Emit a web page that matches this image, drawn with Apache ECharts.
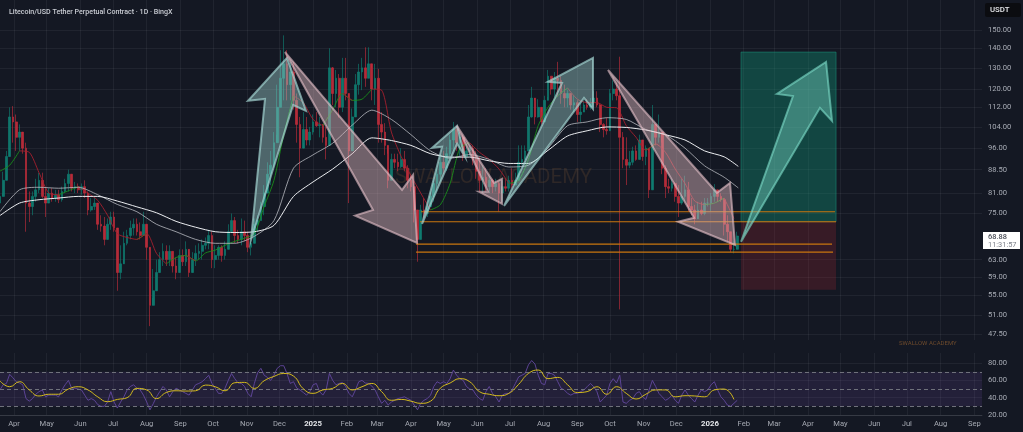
<!DOCTYPE html>
<html><head><meta charset="utf-8">
<style>html,body{margin:0;padding:0;background:#141823}#c{width:1023px;height:432px}</style>
<script src="https://cdn.jsdelivr.net/npm/echarts@6/dist/echarts.min.js"></script>
</head><body><div id="c"></div>
<script>
const title = 'Litecoin/USD Tether Perpetual Contract · 1D · BingX';
const watermark = 'SWALLOW ACADEMY';
const lastPrice = '68.88', countdown = '11:31:57';
const priceTicks = [150,140,130,120,112,104,96,88.5,81,75,63,59,55,51,47.5];
const rsiTicks = [80,60,40,20];
const monthTicks = ['2024-04-01','2024-05-01','2024-06-01','2024-07-01','2024-08-01','2024-09-01','2024-10-01','2024-11-01','2024-12-01','2025-01-01','2025-02-01','2025-03-01','2025-04-01','2025-05-01','2025-06-01','2025-07-01','2025-08-01','2025-09-01','2025-10-01','2025-11-01','2025-12-01','2026-01-01','2026-02-01','2026-03-01','2026-04-01','2026-05-01','2026-06-01','2026-07-01','2026-08-01','2026-09-01'];
const monthNames = ['Jan','Feb','Mar','Apr','May','Jun','Jul','Aug','Sep','Oct','Nov','Dec'];

// candles: one every 3 days, first on day -13 relative to 2024-04-01
const closes = [80,85,93,108,106,100,102,96,78,77,80,82,85,80,78,81,79.5,80.5,79,81.5,84,87,82.5,83,82,83,81,76,77,78,72,71.5,68,72,74,71,60,62,67,69,71,72,70,69,72,66,53,56,60,63,65,63,65,61.5,60,64,62.5,65.5,60,63,64.5,65,66.5,67,69,63,64,66,64,65.5,70,73,69,68,70,69,66,67,72,73,77,81,87,90,98,112,125,132,122,128,115,105,96,103,99,102,106,104.5,105,100,97,130,118,125,112,125,118,95,108,122,128,130,125,132,120,125,105,102,97,85,92,91,89.5,92,89,85,83,76,68,76,75,77,80,84,87,91,89,94,99,103,98,100,93,95,96,92,88,85,86,83,85,83,84,81,83,82.5,85,83.5,85,91,92,95,108,116,108,112,106,115,126,120,125,124,118,116,118,113,114,109,110,113,112,114,116,113,105,103,102.5,118,120,117,100,92,90,91,95,92,99,93,96,82,105,100,102,89,83,82.5,84,80,78,80,82,77,76,73.5,76,75,78,78,80,82,80,79,72,70,65.5,65.5,68.88];
const highs = [89,87.8,95,112,112.5,109,105,101,98,81.5,81.5,85.5,87.5,87.5,82.5,82.5,82.5,82,82,83,85.5,88.5,86.5,84.5,84,84,85,81.5,79.5,79.5,77.5,74.5,74,73.6,75.5,75.5,70.5,66.5,70,70.5,73,73.6,73.6,72.5,75.5,70.5,65.5,60.8,63,64.8,67,66.5,66.5,65,63.5,65.5,65.5,67.5,63,64.8,66.5,67,68,68.5,70.5,70,66.5,66.5,66.5,67.5,72,75,74,70.5,73.6,73,70,67.5,73.6,74.5,78.4,83.5,91,95,102,122,139,147,139,133,133,118,108,110,108,104,109,110,108,104.5,104,140,130.4,129,127,135,135,116,111.5,127,132,135,140.5,140.5,130,132,129.5,110,105.5,94,94,94,94,96,95,90,86.5,85,73.6,77.5,79.5,78.5,81.5,85.5,89,93,95,96.5,101,106,104.5,102,101,97.5,97,97,95,93,90,89,86.5,85.5,85.5,84.5,85,85.5,86.5,89,87.5,97,97,97,113,121,115,115.5,110,117,129,126,128,133,126,122,119.5,118,117,115,113.5,115,115.5,116,119,119,113.5,105.5,107.7,120,124,123,135.6,102,100,95,96.5,97,101,98,97,95,113,104,109,98,90,85.5,85.5,84.5,83.5,85.5,86.5,84.5,79.5,77.5,78.4,78.4,79.5,79.5,81,83.8,81,81,79.5,74.5,70,67.5,70];
const lows = [76.9,80.9,87,96,98,95,95,94,70,72.6,74.5,78.4,81,79.5,74,78.4,78.4,78.4,78,78.4,81,81.5,81.5,81,81,80.5,79.5,74.5,75.5,76,70.5,70,66.5,70,70.5,70,56,58.5,63,66.5,68,69,69,68,69,63,49,54.5,56.5,60.8,61.5,61.5,61.5,60,58.5,61.5,61.5,61.5,59,60.8,61.5,63,63,65.5,65.5,61,61,63,62.5,63,66.5,70,67,67,66.5,67.5,64.8,64,67.5,70,73,74.5,82,83.5,89,101,112,115,115,115,111,98,86,98,97,97,101,104,100,98,92,101,113,112,107.7,110,115,78,101,111,117.5,119.5,121,125,115,113,98,98,93.5,82.5,87,89,88,89,88,82.5,81.5,72.5,62.5,72.5,73.6,74,77,78.4,81.5,84.5,87,88,93,95,95,93,91.5,93,93,90,85.5,81.5,81,81.5,81,81,81.5,75.5,78.4,81.5,81.5,82.5,83.5,87.5,90,93,95,107.7,105,107.7,105,110,116.5,117.5,116.5,116.5,113.5,112,112,111,110,106,106,111,111,111,112,112,102,100,101,107.7,115,115,52.2,89,83.5,89,90,91.5,93,91.5,90,79.5,94,97,98,87,79.5,81,81.5,78.4,74,77.5,78.4,75.5,74.5,72,74.5,74.5,74.5,77,75.5,78.4,78.4,78.4,69,67.5,64.8,64.5,67];

// fast average: one value every 9 days from day -13
const fastMA = [88,90,95,94.5,87.5,81,80.5,81.7,83,81,78.8,74.5,69.5,68.5,68,69.5,64.5,62,63.5,64,62.7,64.6,65.3,66.5,67.5,68.3,69.5,77,85,101,117,114,107,104.5,111,118,115,115.5,120,119.5,102,93,86.5,81,76,77.5,84,96,98,94.5,92,88.7,84,85,92,104.5,112,117,120.5,115.5,114,114,112,111.8,104.5,100,95.3,97.5,94.5,88.7,84,78.6,77.5,78,79.5,73.6];
// slow averages: one value every 18 days from day -13, last value on day 666
const midMA = [75.5,82,82.8,82.5,82.8,80.5,77.6,75.5,72,70,68,67,67,68.8,73,89,93.6,97.8,104.7,110.8,107,101,95,92.4,93.7,92,89.4,90,96,104.5,106,107.7,107,103,101,96,89.8,86,82.6];
const slowMA = [74.4,78,79,79.5,80,80,78.6,76.9,75.2,72.8,71.2,70,69.8,70,71.7,80,84.5,88.7,94,99.8,98.8,97,94,92.8,92.8,91.5,90.6,90.6,95.2,100.5,102.5,104,103.8,102.8,101,99,95,92.9,89.6];

// RSI: same dates as the candles
const rsi = [49,55,56.5,67,63,58.5,57,55,39,36,39,44,47,49,41,43,43,43,41,49,55,60,51,51,50,49,43,37,39,37,32,30,30,35,47,35,28,35,41,49,53,55,51,49,43,35,26,33,41,47,53,49,41,47,51,49,47,45,43,49,55,56.5,58.5,62,66,56.5,51,45,45,51,60,68,62,57,56.5,53,45,41,56.5,69,74,66,63.5,60,66,74,77,77,68,56.5,58.5,51,49,46,43,47,55,56.5,47,43,49,68,60,55,56.5,57.5,52.7,45,41,49,58.5,60,57,56.5,53.5,49,41,33.5,37,31.5,35,37,39,40,41,39,37,31.5,26,33.5,37,39,43,53,58.5,56.5,58.5,56.5,62,72,66,62,60,53,50,49,43,39,37,47,53,45,41,35,43,45,45,49,56.5,64,66,68,78,83,79,66,56.5,55,68,68,66,58.5,51,49,45,43,45,45,47,49,52.7,56.5,52.7,47,35,39,43,56.5,62,57,66,35,33.5,37,39,45,47,41,38,49,60,53,45,41,37,39,43,37,33.5,43,49,43,39,35,43,49,47,49,55,58.5,49,41,37,31.5,30,33.5,37];
const rsiMA = [59.6,52.7,58.5,49,42,44,44,50,52.7,49,41,35.4,38,40,50.8,49,39,46,48,47.7,48,54.6,52.7,48,57.3,57.7,50.8,59.6,64.6,68,65,50.4,45,49,50.8,56.5,49,52.7,56.5,47,37,38,36,33.5,36,51,57,62,58.5,47,44,42.3,45,55.4,68,72,62,63.5,55,46,47,52.7,44,52.7,45,38.5,44,49,49,41,42.3,42,41,49,50,38];
const rsiLevels = [70,50,30];

// drawings: vertices as [days since 2024-04-01, price]
const tealArrows = [
 [[217.9,67.9],[230.8,115.6],[215.2,114.8],[251,135],[268.5,110.5],[256.6,113]],
 [[375.2,72.1],[393.6,96.5],[384.4,96.1],[407.4,104.4],[414.7,92.9],[407.4,97.6]],
 [[450.6,77.2],[503.9,122.8],[491,123.3],[532.4,135],[532.4,111.3],[524.1,116.1]]
];
const pinkArrows = [
 [[249.2,138],[356.8,82],[366.9,86.8],[370.6,67.1],[313.6,74.4],[330.1,76]],
 [[407.4,104.4],[441.4,84.2],[448.7,85.5],[448.7,77.8],[427.6,81.4],[435.9,81.4]],
 [[546.2,129],[646.4,81.1],[658.4,84.2],[663,66.6],[610.6,72.7],[625.3,73.8]]
];
const targetArrow = [[668.5,67.4],[716.3,116.9],[701.6,117.8],[746.7,132.9],[752.2,106.4],[741.1,111.8]];
const boxDays = [668.5,755.9];
const boxPrices = [138,72.7,56.2];
const levelPrices = [75.5,72.7,66.8,64.8];
const levelFrom = [374.3,373.3,369.7,369.7];
const levelTo = [754.9,755.9,752.2,753.1];

const T0 = Date.UTC(2024,3,1), DAY = 86400000;
const ln = Math.log;
const candleDay = i => -13 + 3*i;
const candles = closes.map((c,i)=>[candleDay(i), ln(i? closes[i-1] : 78), ln(c), ln(lows[i]), ln(highs[i])]);
const fastPts = fastMA.map((v,i)=>[-13+9*i, ln(v)]);
const fastUp = fastPts.map((p,i)=> (i>0&&fastMA[i]>fastMA[i-1])||(i<fastMA.length-1&&fastMA[i+1]>fastMA[i]) ? p : [p[0],null]);
const fastDown = fastPts.map((p,i)=> (i>0&&fastMA[i]<=fastMA[i-1])||(i<fastMA.length-1&&fastMA[i+1]<=fastMA[i]) ? p : [p[0],null]);
const slowDay = i => i<38 ? -13+18*i : 666;
const midPts = midMA.map((v,i)=>[slowDay(i),ln(v)]);
const slowPts = slowMA.map((v,i)=>[slowDay(i),ln(v)]);
const rsiPts = rsi.map((v,i)=>[candleDay(i),v]);
const rsiMaPts = rsiMA.map((v,i)=>[-13+9*i,v]);
const monthVals = monthTicks.map(s=>(Date.parse(s+'T00:00:00Z')-T0)/DAY);
const priceVals = priceTicks.map(ln);
const gridCol = 'rgba(255,255,255,0.055)';

function polySeries(polys, style, z){
  return {type:'custom', xAxisIndex:0, yAxisIndex:0, z, clip:true, silent:true,
    data: polys.map((_,i)=>[0,ln(100),i]),
    encode:{x:0,y:1},
    renderItem:(p,api)=>({type:'polygon',
      shape:{points:polys[api.value(2)].map(v=>api.coord([v[0],ln(v[1])]))},
      style})};
}
const box = (d0,d1,p0,p1)=>[[d0,p0],[d1,p0],[d1,p1],[d0,p1]];

const option = {
  animation:false, backgroundColor:'#141823',
  title:{text:title,left:4,top:4,textStyle:{color:'#c9ccd3',fontSize:7.1,fontWeight:500,fontFamily:'Roboto'}},
  grid:[{left:0,top:0,width:982,height:340},{left:0,top:353,width:982,height:62}],
  xAxis:[0,1].map(i=>({type:'value',gridIndex:i,min:-12.9,max:890.1,
    axisLine:{show:i===1,lineStyle:{color:'rgba(255,255,255,0.1)'}},axisTick:{show:false,customValues:monthVals},
    splitLine:{show:true,lineStyle:{color:gridCol,width:1}},
    axisLabel:{show:i===1,customValues:monthVals,margin:5,color:'#a4a8b1',fontSize:7.6,fontFamily:'Roboto',hideOverlap:false,
      formatter:v=>{const d=new Date(T0+v*DAY);return d.getUTCMonth()===0?'{y|'+d.getUTCFullYear()+'}':monthNames[d.getUTCMonth()];},
      rich:{y:{color:'#e4e6ea',fontWeight:700,fontSize:7.8,fontFamily:'Roboto'}}}})),
  yAxis:[
   {type:'value',gridIndex:0,position:'right',min:ln(46.5),max:ln(168),
    axisLine:{show:false},axisTick:{show:false,customValues:priceVals},
    splitLine:{show:true,lineStyle:{color:gridCol}},
    axisLabel:{customValues:priceVals,margin:6,color:'#a8acb5',fontSize:7.6,fontFamily:'Roboto',hideOverlap:false,
      formatter:v=>Math.exp(v).toFixed(2)}},
   {type:'value',gridIndex:1,position:'right',min:20,max:91.7,
    axisLine:{show:false},axisTick:{show:false,customValues:rsiTicks},
    splitLine:{show:true,lineStyle:{color:gridCol}},
    axisLabel:{customValues:rsiTicks,margin:6,color:'#a8acb5',fontSize:7.6,fontFamily:'Roboto',hideOverlap:false,
      formatter:v=>v.toFixed(2)}}
  ],
  graphic:[
   {type:'text',z:1,silent:true,left:395,top:167,style:{text:watermark,fill:'rgba(150,100,55,0.2)',font:'20.5px Roboto'}},
   {type:'text',z:1,silent:true,left:899,top:340,style:{text:watermark,fill:'#6d4a2c',font:'6px Roboto'}},
   {type:'rect',z:20,silent:true,shape:{x:985,y:3,width:36,height:14,r:2},style:{fill:'#0b0c10'}},
   {type:'text',z:21,silent:true,left:990,top:6,style:{text:'USDT',fill:'#e8e9ec',font:'500 7.8px Roboto'}},
   {type:'rect',z:20,silent:true,shape:{x:983,y:232,width:37,height:17},style:{fill:'#ffffff'}},
   {type:'text',z:21,silent:true,left:988,top:233.5,style:{text:lastPrice,fill:'#4a4e58',font:'500 7.4px Roboto'}},
   {type:'text',z:21,silent:true,left:988,top:241.5,style:{text:countdown,fill:'#7d818a',font:'7.4px Roboto'}}
  ],
  series:[
   polySeries([box(boxDays[0],boxDays[1],boxPrices[0],boxPrices[1])],{fill:'rgba(15,150,120,0.37)',stroke:'rgba(30,150,125,0.5)',lineWidth:1},1),
   polySeries([box(boxDays[0],boxDays[1],boxPrices[1],boxPrices[2])],{fill:'rgba(160,40,50,0.26)'},1),
   {type:'candlestick',xAxisIndex:0,yAxisIndex:0,z:3,silent:true,barWidth:2.2,large:false,clip:true,
    data:candles,encode:{x:0,y:[1,2,3,4]},
    itemStyle:{color:'#0f7f73',color0:'#c42d3b',borderColor:'#0f7f73',borderColor0:'#c42d3b',borderWidth:0.7,opacity:0.9}},
   ...[[fastUp,'#1a8f1c'],[fastDown,'#a51f2e']].map(([d,c])=>({type:'line',xAxisIndex:0,yAxisIndex:0,z:4,silent:true,symbol:'none',smooth:0.25,connectNulls:false,data:d,lineStyle:{color:c,width:0.9}})),
   {type:'line',xAxisIndex:0,yAxisIndex:0,z:4,silent:true,symbol:'none',smooth:0.25,data:midPts,lineStyle:{color:'#b9bbc2',width:0.8}},
   {type:'line',xAxisIndex:0,yAxisIndex:0,z:4,silent:true,symbol:'none',smooth:0.25,data:slowPts,lineStyle:{color:'#eceef1',width:1}},
   ...levelPrices.map((p,i)=>({type:'line',xAxisIndex:0,yAxisIndex:0,z:6,silent:true,symbol:'none',
      data:[[levelFrom[i],ln(p)],[levelTo[i],ln(p)]],lineStyle:{color:'#c9760f',width:1.1}})),
   polySeries(tealArrows,{fill:'rgba(160,212,208,0.42)',stroke:'rgba(165,215,212,0.68)',lineWidth:2,lineJoin:'miter'},7),
   polySeries(pinkArrows,{fill:'rgba(222,182,190,0.46)',stroke:'rgba(228,192,200,0.62)',lineWidth:2,lineJoin:'miter'},7),
   polySeries([targetArrow],{fill:'rgba(120,215,195,0.42)',stroke:'rgba(125,220,200,0.62)',lineWidth:2,lineJoin:'miter'},7),
   {type:'line',xAxisIndex:1,yAxisIndex:1,z:4,silent:true,symbol:'none',data:rsiPts,lineStyle:{color:'#63489f',width:0.9},
    markArea:{silent:true,z:1,itemStyle:{color:'rgba(126,87,194,0.14)'},data:[[{yAxis:rsiLevels[2],xAxis:-12.9},{yAxis:rsiLevels[0],xAxis:890.1}]]},
    markLine:{silent:true,symbol:'none',label:{show:false},lineStyle:{color:'#6f717b',type:[4,3],width:1},data:rsiLevels.map(v=>({yAxis:v}))}},
   {type:'line',xAxisIndex:1,yAxisIndex:1,z:5,silent:true,symbol:'none',smooth:0.5,data:rsiMaPts,lineStyle:{color:'#d4bb1e',width:1}}
  ]
};
const chart = echarts.init(document.getElementById('c'),null,{width:1023,height:432});
chart.setOption(option);
</script></body></html>
